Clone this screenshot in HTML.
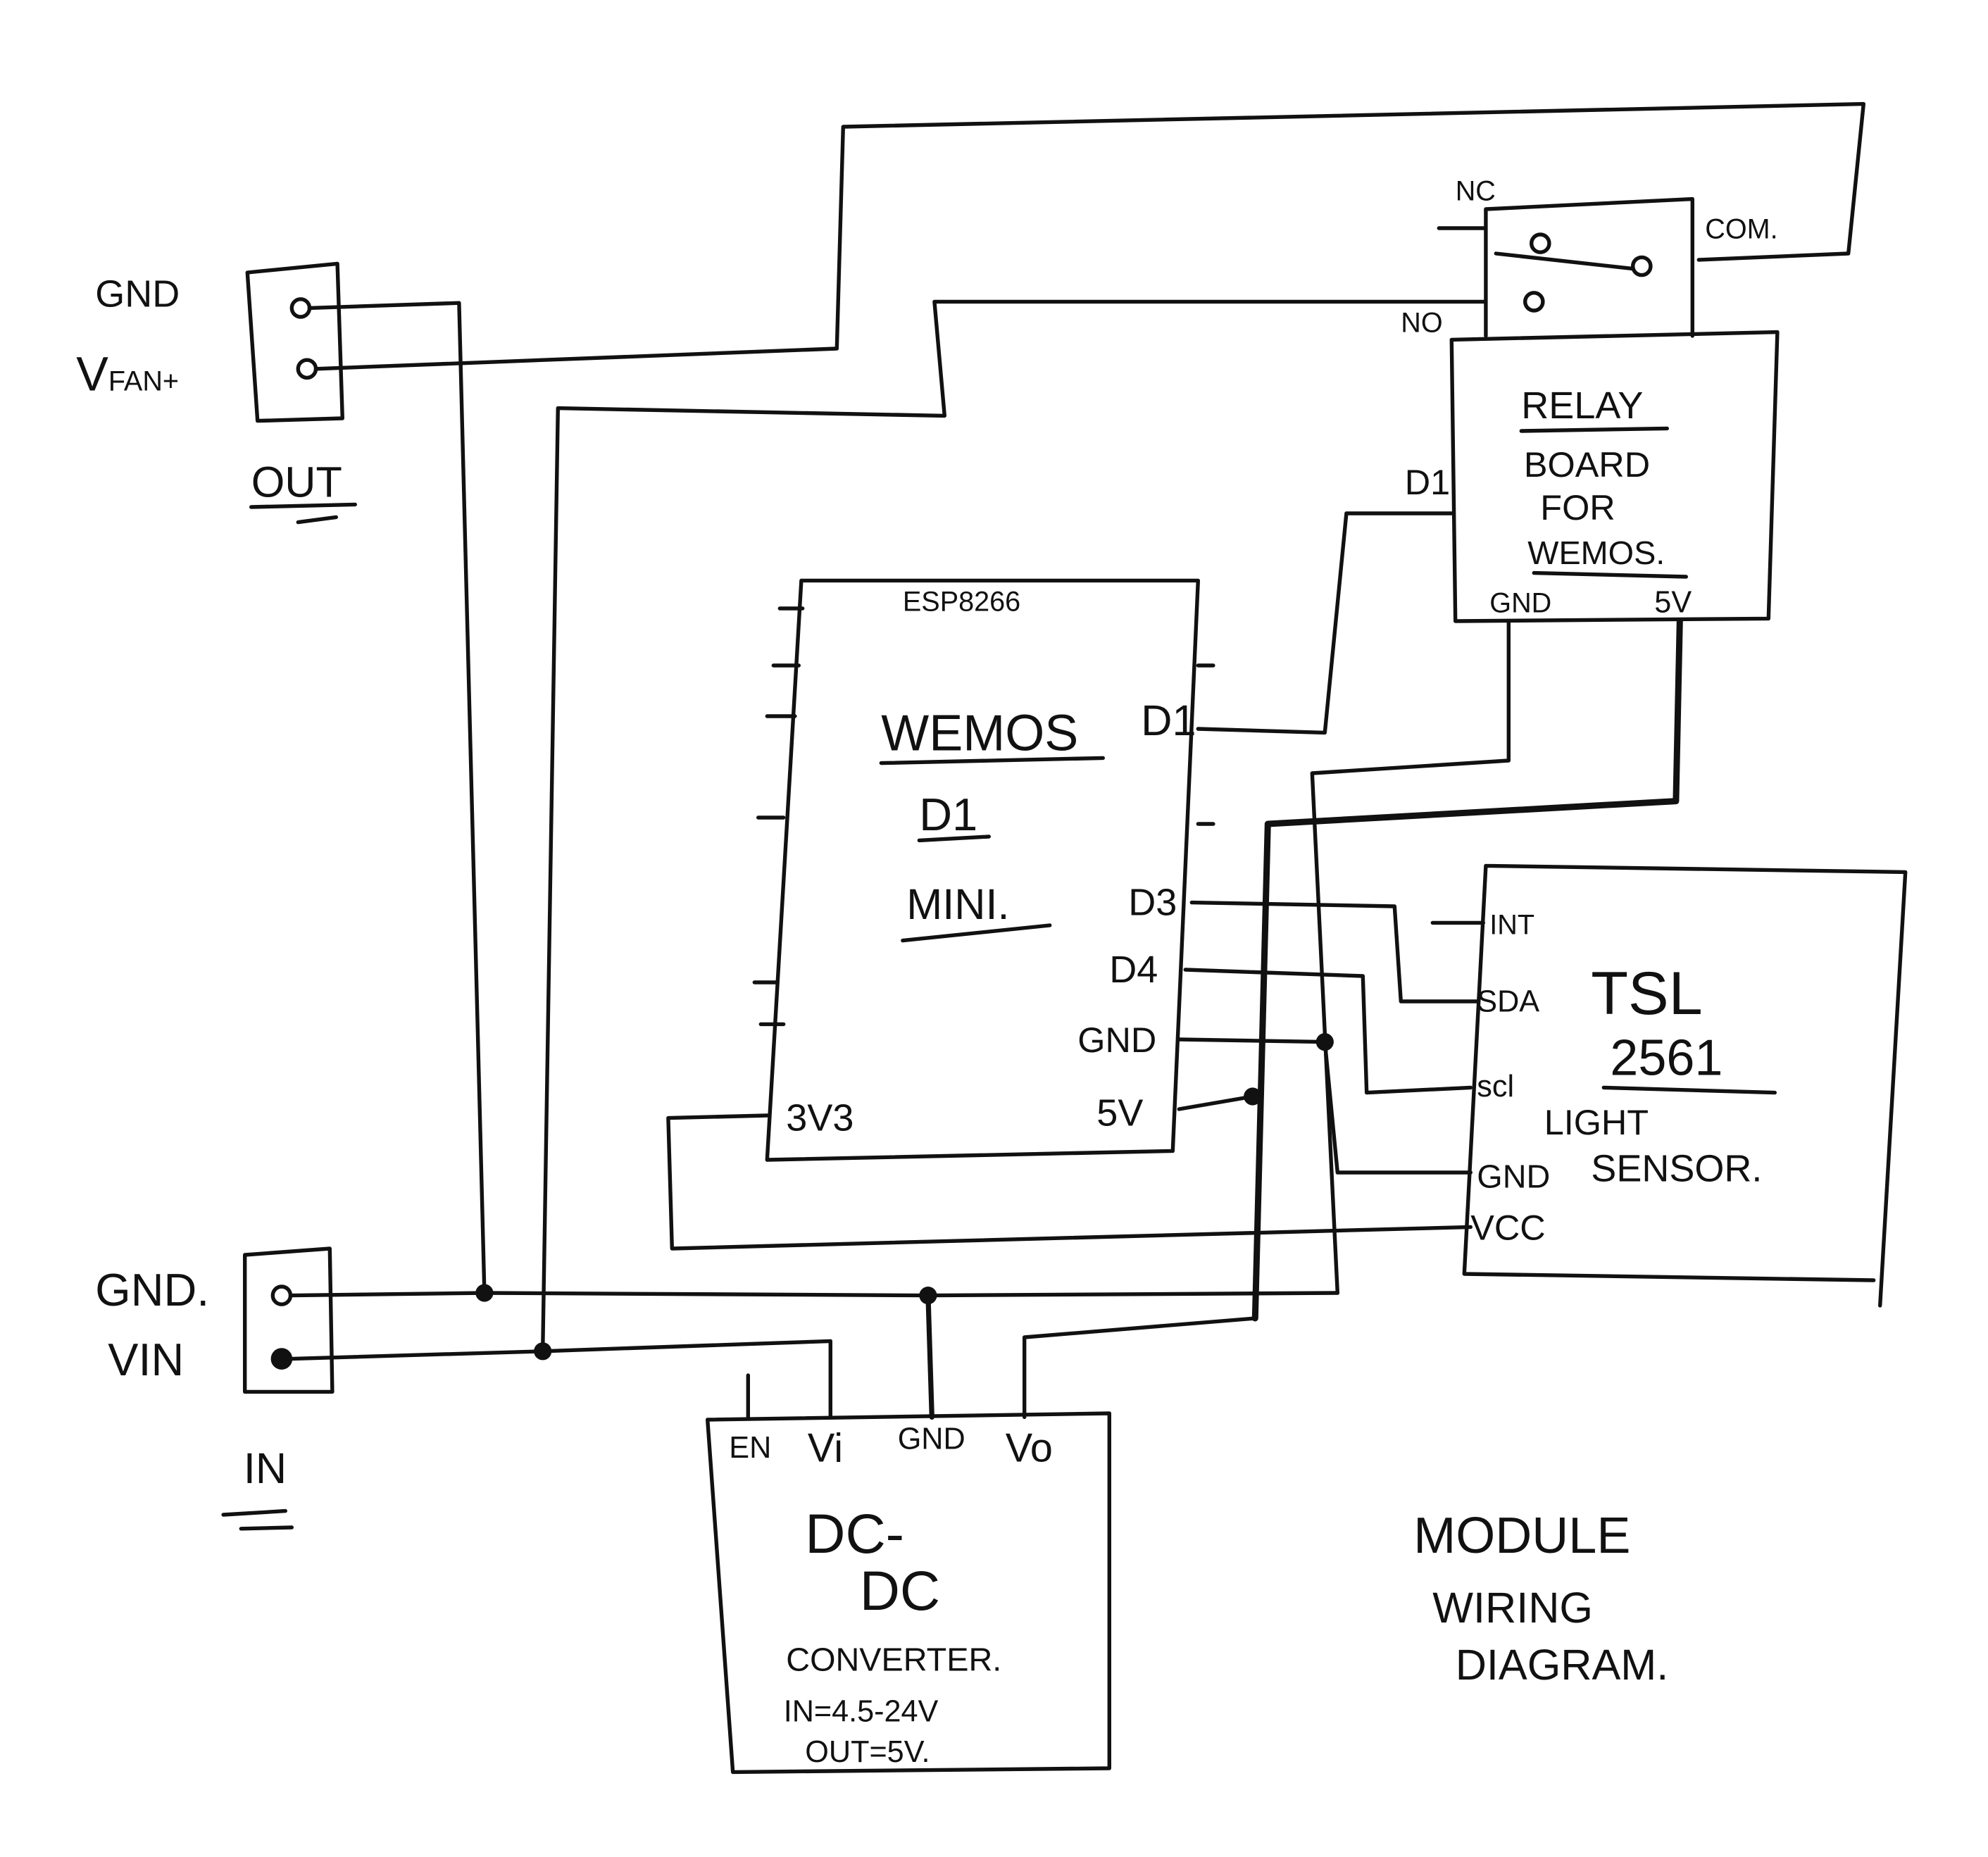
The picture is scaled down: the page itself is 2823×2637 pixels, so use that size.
<!DOCTYPE html>
<html><head><meta charset="utf-8"><style>
html,body{margin:0;padding:0;background:#fff}
svg{display:block}
text{font-family:"Liberation Sans",sans-serif;fill:#111}
</style></head><body>
<svg width="2823" height="2637" viewBox="0 0 1568 1465" xmlns="http://www.w3.org/2000/svg">
<g fill="none" stroke="#111" stroke-width="3" stroke-linecap="round" stroke-linejoin="round">
<path d="M195,215 L266,208 L270,330 L203,332 Z"/>
<circle cx="237" cy="243" r="7"/><circle cx="242" cy="291" r="7"/>
<path d="M244,243 L362,239 L382,1020"/>
<path d="M249,291 L660,275 L665,100 L1470,82 L1458,200 L1340,205"/>
<path d="M198,400 L280,398 M235,412 L265,408"/>
<path d="M1172,165 L1335,157 L1335,265 M1172,165 L1172,265"/>
<path d="M1135,180 L1172,180"/>
<circle cx="1215" cy="192" r="7"/><circle cx="1295" cy="210" r="7"/><circle cx="1210" cy="238" r="7"/>
<path d="M1180,200 L1288,212"/>
<path d="M1172,238 L737,238 L745,328 L440,322 L428,1066"/>
<path d="M1145,268 L1402,262 L1395,488 L1148,490 Z"/>
<path d="M1200,340 L1315,338 M1210,452 L1330,455"/>
<path d="M1145,405 L1062,405 L1045,578 L945,575"/>
<path d="M1190,490 L1190,600 L1035,610 L1055,1020"/>
<path d="M1325,490 L1322,632 L1000,650 L990,1040" stroke-width="5"/>
<path d="M632,458 L945,458 L925,908 L605,915 L632,458"/>
<path d="M615,480h18 M610,525h20 M605,565h22 M598,645h20 M595,775h18 M600,808h18 M945,525h12 M945,650h12"/>
<path d="M695,602 L870,598 M725,663 L780,660 M712,742 L828,730"/>
<path d="M940,712 L1100,715 L1105,790 L1165,790"/>
<path d="M935,765 L1075,770 L1078,862 L1160,858"/>
<path d="M930,820 L1045,822 L1055,925 L1160,925"/>
<path d="M930,875 L988,865"/>
<path d="M605,880 L527,882 L530,985 L1160,968"/>
<path d="M1130,728 L1170,728"/>
<path d="M1172,683 L1503,688 L1483,1030 M1172,683 L1155,1005 L1478,1010"/>
<path d="M1265,858 L1400,862"/>
<path d="M193,990 L260,985 L262,1098 L193,1098 Z"/>
<circle cx="222" cy="1022" r="7"/><circle cx="222" cy="1072" r="7" fill="#111"/>
<path d="M229,1022 L382,1020 L732,1022 L1055,1020"/>
<path d="M229,1072 L428,1066 L655,1058 L655,1118"/>
<path d="M176,1195 L225,1192 M190,1206 L230,1205"/>
<path d="M558,1120 L875,1115 L875,1395 L578,1398 L558,1120"/>
<path d="M590,1085 L590,1118"/>
<path d="M732,1022 L735,1118" stroke-width="4"/>
<path d="M808,1118 L808,1055 L990,1040"/>
</g>
<g fill="#111">
<circle cx="382" cy="1020" r="7"/><circle cx="428" cy="1066" r="7"/>
<circle cx="732" cy="1022" r="7"/><circle cx="1045" cy="822" r="7"/>
<circle cx="988" cy="865" r="7"/>
</g>
<g font-size="30">
<text x="75" y="242">GND</text>
<text x="60" y="308" font-size="38">V<tspan font-size="22">FAN+</tspan></text>
<text x="198" y="392" font-size="34">OUT</text>
<text x="1148" y="158" font-size="22">NC</text>
<text x="1105" y="262" font-size="22">NO</text>
<text x="1345" y="188" font-size="22">COM.</text>
<text x="1200" y="330" font-size="30">RELAY</text>
<text x="1202" y="376" font-size="28">BOARD</text>
<text x="1215" y="410" font-size="28">FOR</text>
<text x="1205" y="445" font-size="26">WEMOS.</text>
<text x="1175" y="483" font-size="22">GND</text>
<text x="1305" y="483" font-size="24">5V</text>
<text x="1108" y="390" font-size="28">D1</text>
<text x="712" y="482" font-size="22">ESP8266</text>
<text x="695" y="592" font-size="40">WEMOS</text>
<text x="900" y="580" font-size="34">D1</text>
<text x="725" y="655" font-size="36">D1</text>
<text x="715" y="725" font-size="34">MINI.</text>
<text x="890" y="722" font-size="30">D3</text>
<text x="875" y="775" font-size="30">D4</text>
<text x="850" y="830" font-size="28">GND</text>
<text x="865" y="888" font-size="30">5V</text>
<text x="620" y="892" font-size="30">3V3</text>
<text x="1175" y="737" font-size="22">INT</text>
<text x="1165" y="798" font-size="24">SDA</text>
<text x="1165" y="865" font-size="24">scl</text>
<text x="1165" y="937" font-size="26">GND</text>
<text x="1160" y="978" font-size="28">VCC</text>
<text x="1255" y="800" font-size="48">TSL</text>
<text x="1270" y="848" font-size="40">2561</text>
<text x="1218" y="895" font-size="28">LIGHT</text>
<text x="1255" y="932" font-size="30">SENSOR.</text>
<text x="75" y="1030" font-size="36">GND.</text>
<text x="85" y="1085" font-size="36">VIN</text>
<text x="192" y="1170" font-size="34">IN</text>
<text x="575" y="1150" font-size="24">EN</text>
<text x="637" y="1153" font-size="32">Vi</text>
<text x="708" y="1143" font-size="24">GND</text>
<text x="793" y="1153" font-size="32">Vo</text>
<text x="635" y="1225" font-size="44">DC-</text>
<text x="678" y="1270" font-size="44">DC</text>
<text x="620" y="1318" font-size="26">CONVERTER.</text>
<text x="618" y="1358" font-size="24">IN=4.5-24V</text>
<text x="635" y="1390" font-size="24">OUT=5V.</text>
<text x="1115" y="1225" font-size="40">MODULE</text>
<text x="1130" y="1280" font-size="34">WIRING</text>
<text x="1148" y="1325" font-size="34">DIAGRAM.</text>
</g>
</svg>
</body></html>
